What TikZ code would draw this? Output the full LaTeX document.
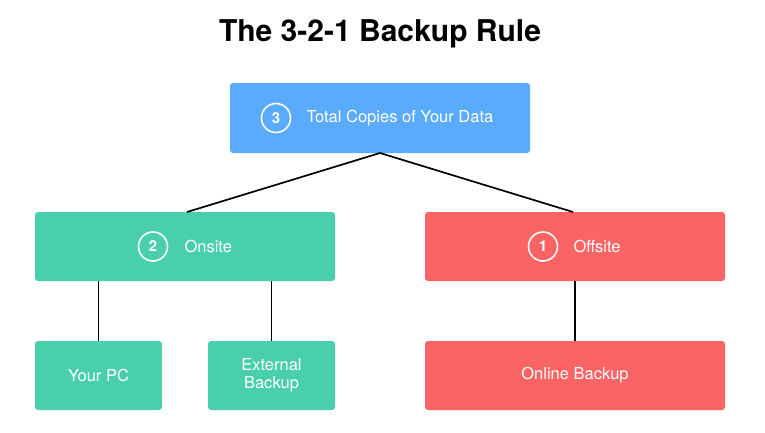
\documentclass[tikz,border=0pt]{standalone}
\usepackage{fontspec}
\setmainfont{TeX Gyre Heros}
\definecolor{cblue}{HTML}{5AABFD}
\definecolor{cgreen}{HTML}{4ACFAC}
\definecolor{cred}{HTML}{FA6464}
\begin{document}
\begin{tikzpicture}[x=1pt,y=-1pt,
  box/.style={inner sep=0pt, rounded corners=3pt, text=white, font=\fontsize{16.5}{18}\selectfont, align=center},
  lbl/.style={anchor=west, text=white, font=\fontsize{16.5}{18}\selectfont},
  num/.style={circle, draw=white, line width=1.6pt, minimum size=29pt, inner sep=0pt, text=white, font=\bfseries\fontsize{15}{17}\selectfont},
  link/.style={draw=black, line width=1.7pt}]
\useasboundingbox (0,0) rectangle (765,432);
\node (title) at (380,34) {\bfseries\fontsize{30}{34}\selectfont The 3-2-1 Backup Rule};
% boxes
\node[box, fill=cblue, minimum width=300pt, minimum height=70pt] (top) at (380,118) {};
\node[num] (n3) at (276,118) {3};
\node[lbl] (t3) at (303,118) {Total Copies of Your Data};

\node[box, fill=cgreen, minimum width=300pt, minimum height=69pt] (on) at (185,246.5) {};
\node[num] (n2) at (153,246.5) {2};
\node[lbl] (t2) at (181,246.5) {Onsite};

\node[box, fill=cred, minimum width=300pt, minimum height=69pt] (off) at (575,246.5) {};
\node[num] (n1) at (543,246.5) {1};
\node[lbl] (t1) at (570,246.5) {Offsite};

\node[box, fill=cgreen, minimum width=127pt, minimum height=69pt] (pc) at (98.5,375.5) {Your PC};
\node[box, fill=cgreen, minimum width=127pt, minimum height=69pt] (ext) at (271.5,375.5) {External\\[-0.5pt]Backup};
\node[box, fill=cred, minimum width=300pt, minimum height=69pt] (onl) at (575,375.5) {Online Backup};

\coordinate (topb) at (380,153);
\draw[link] (topb) -- (187,212);
\draw[link] (topb) -- (573,212);
\draw[link] (pc.north) -- (pc.north |- on.south);
\draw[link] (ext.north) -- (ext.north |- on.south);
\draw[link] (onl.north) -- (off.south);
\end{tikzpicture}
\end{document}
